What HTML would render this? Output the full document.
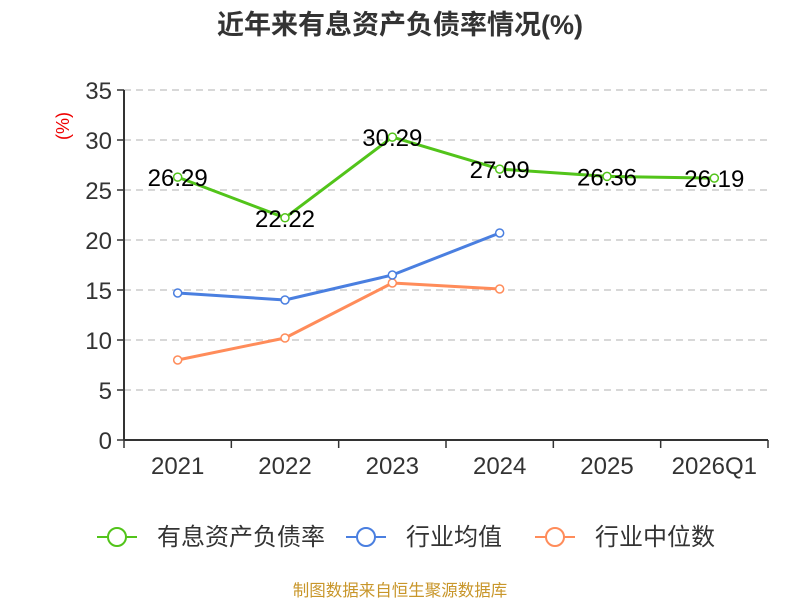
<!DOCTYPE html>
<html><head><meta charset="utf-8"><style>
body{margin:0;background:#fff;}
svg text{font-family:"Liberation Sans","Noto Sans CJK SC",sans-serif;}
</style></head><body>
<svg id="c" width="800" height="600" xmlns="http://www.w3.org/2000/svg">
<text x="400" y="34" text-anchor="middle" font-size="27" font-weight="bold" fill="#333">近年来有息资产负债率情况(%)</text>
<text transform="translate(69,126) rotate(-90)" text-anchor="middle" font-size="18" fill="#e00">(%)</text>
<g id="grid"></g><g id="axes"></g><g id="series"></g>
<g>
<g><line x1="97" y1="537" x2="137" y2="537" stroke="#52c41a" stroke-width="2"/><circle cx="117" cy="537" r="9" fill="#fff" stroke="#52c41a" stroke-width="2"/><text x="157" y="545" font-size="24" fill="#333">有息资产负债率</text></g>
<g><line x1="346" y1="537" x2="386" y2="537" stroke="#4a7fe0" stroke-width="2"/><circle cx="366" cy="537" r="9" fill="#fff" stroke="#4a7fe0" stroke-width="2"/><text x="406" y="545" font-size="24" fill="#333">行业均值</text></g>
<g><line x1="535" y1="537" x2="575" y2="537" stroke="#ff8c5a" stroke-width="2"/><circle cx="555" cy="537" r="9" fill="#fff" stroke="#ff8c5a" stroke-width="2"/><text x="595" y="545" font-size="24" fill="#333">行业中位数</text></g>
</g>
<text x="400" y="596" text-anchor="middle" font-size="16.5" fill="#c8962a">制图数据来自恒生聚源数据库</text>
</svg>
<script>
const categories=["2021","2022","2023","2024","2025","2026Q1"];
const debtRatio=[26.29,22.22,30.29,27.09,26.36,26.19];
const industryMean=[14.7,14.0,16.5,20.7];
const industryMedian=[8.0,10.2,15.7,15.1];
const yTicks=[0,5,10,15,20,25,30,35];
const NS="http://www.w3.org/2000/svg";
const x0=124,x1=768,y0=440,yTop=90,yMax=35;
const bw=(x1-x0)/categories.length;
const xs=i=>x0+bw*(i+0.5);
const ys=v=>y0-(v/yMax)*(y0-yTop);
function mk(tag,attrs,parent){const e=document.createElementNS(NS,tag);for(const k in attrs)e.setAttribute(k,attrs[k]);parent.appendChild(e);return e;}
const grid=document.getElementById('grid'),axes=document.getElementById('axes'),ser=document.getElementById('series');
yTicks.forEach(t=>{
 if(t>0){const g=mk('line',{x1:x0,x2:x1,y1:ys(t),y2:ys(t),stroke:'#ccc','stroke-width':1.5,'stroke-dasharray':'7,5'},grid);
 
 }
 const tk=mk('line',{x1:x0-7,x2:x0,y1:ys(t),y2:ys(t),stroke:'#333','stroke-width':1.5},axes);
 
 
 const tl=mk('text',{x:x0-12,y:ys(t)+9,'text-anchor':'end','font-size':24,fill:'#333'},axes);tl.textContent=t;
 
 
});
const ya=mk('line',{x1:x0,x2:x0,y1:yTop,y2:y0,stroke:'#333','stroke-width':2},axes);


const xa=mk('line',{x1:x0,x2:x1,y1:y0,y2:y0,stroke:'#333','stroke-width':2},axes);


for(let i=0;i<=categories.length;i++){const tk=mk('line',{x1:x0+bw*i,x2:x0+bw*i,y1:y0,y2:y0+8,stroke:'#333','stroke-width':1.5},axes);
 
 }
categories.forEach((c,i)=>{const t=mk('text',{x:xs(i),y:y0+34,'text-anchor':'middle','font-size':24,fill:'#333'},axes);t.textContent=c;
 
 });
function series(vals,color,name,labels){
 const p=mk('polyline',{points:vals.map((v,i)=>xs(i)+','+ys(v)).join(' '),fill:'none',stroke:color,'stroke-width':3,'stroke-linejoin':'round'},ser);
 
 
 vals.forEach((v,i)=>{const c=mk('circle',{cx:xs(i),cy:ys(v),r:4,fill:'#fff',stroke:color,'stroke-width':1.5},ser);
  
  
  if(labels){const t=mk('text',{x:xs(i),y:ys(v)+9,'text-anchor':'middle','font-size':24,fill:'#000'},ser);t.textContent=v.toFixed(2);
   
   }
 });
}
series(industryMedian,'#ff8c5a','industry-median',false);
series(industryMean,'#4a7fe0','industry-mean',false);
series(debtRatio,'#52c41a','debt-ratio',true);
</script>
</body></html>
